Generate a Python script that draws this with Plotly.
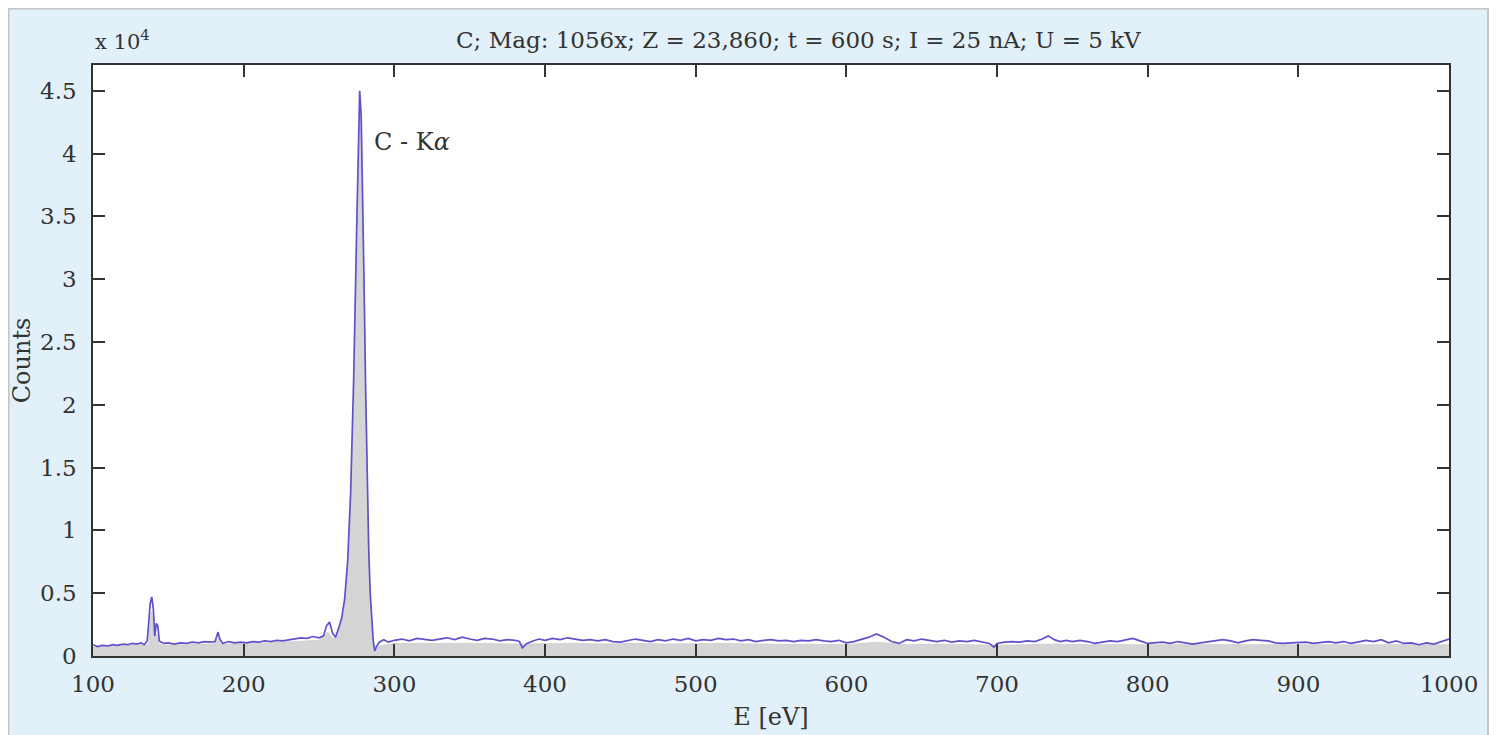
import plotly.graph_objects as go

# ---------------- data ----------------
energy_eV = [100, 103, 106, 110, 113, 116, 120, 123, 126, 129, 132, 134, 136, 138, 139, 140, 141, 142, 143, 144,
             147, 150, 154, 158, 162, 166, 170, 174, 178, 181, 183, 184, 186, 190, 194, 198, 202, 206, 210, 214,
             218, 222, 226, 230, 234, 238, 242, 246, 250, 253, 255, 257, 259, 261, 263, 265, 267, 269, 271, 273,
             275, 276, 277, 278, 279, 280, 281, 282, 283, 284, 285, 286, 287, 288, 290, 293, 296, 300, 305, 310,
             315, 320, 325, 330, 335, 340, 345, 350, 355, 360, 365, 370, 375, 380, 383, 385, 388, 392, 396, 400,
             405, 410, 415, 420, 425, 430, 435, 440, 445, 450, 455, 460, 465, 470, 475, 480, 485, 490, 495, 500,
             505, 510, 515, 520, 525, 530, 535, 540, 545, 550, 555, 560, 565, 570, 575, 580, 585, 590, 595, 600,
             605, 610, 615, 620, 625, 630, 635, 640, 645, 650, 655, 660, 665, 670, 675, 680, 685, 690, 695, 698,
             700, 705, 710, 715, 720, 725, 730, 734, 738, 742, 746, 750, 755, 760, 765, 770, 775, 780, 785, 790,
             795, 800, 810, 815, 820, 825, 830, 835, 840, 845, 850, 855, 860, 865, 870, 875, 880, 885, 890, 895,
             900, 905, 910, 915, 920, 925, 930, 935, 940, 945, 950, 955, 960, 965, 970, 975, 980, 985, 990, 995,
             1000]
smoothed_counts = [900, 750, 850, 800, 900, 850, 950, 900, 1000, 950, 1050, 900, 1200, 4200, 4700, 3800, 1600, 2600, 2400, 1200,
                   1000, 1050, 950, 1050, 1000, 1100, 1050, 1150, 1100, 1150, 1900, 1400, 1000, 1150, 1050, 1100, 1050, 1150, 1100, 1200,
                   1150, 1250, 1200, 1300, 1350, 1450, 1400, 1550, 1450, 1600, 2400, 2700, 1800, 1500, 2200, 3000, 4500, 7500, 13000, 22000,
                   34000, 41000, 45000, 43000, 37000, 29000, 21000, 14000, 8500, 5000, 2500, 1200, 400, 700, 1100, 1300, 1100, 1250, 1350, 1200,
                   1400, 1300, 1250, 1350, 1450, 1300, 1500, 1350, 1250, 1400, 1350, 1200, 1300, 1250, 1150, 650, 1000, 1200, 1350, 1250,
                   1400, 1300, 1450, 1350, 1250, 1300, 1200, 1300, 1150, 1100, 1200, 1350, 1250, 1150, 1300, 1200, 1350, 1250, 1400, 1200,
                   1300, 1250, 1400, 1300, 1350, 1200, 1300, 1150, 1250, 1300, 1200, 1250, 1150, 1250, 1200, 1300, 1200, 1150, 1250, 1050,
                   1150, 1300, 1500, 1750, 1500, 1150, 1000, 1300, 1200, 1350, 1250, 1150, 1250, 1100, 1200, 1150, 1250, 1150, 1000, 700,
                   1000, 1100, 1150, 1100, 1200, 1150, 1350, 1600, 1300, 1150, 1250, 1150, 1250, 1150, 1000, 1100, 1200, 1150, 1300, 1400,
                   1200, 1000, 1100, 1000, 1150, 1050, 950, 1050, 1150, 1250, 1300, 1200, 1050, 1200, 1300, 1250, 1200, 1050, 1000, 1050,
                   1050, 1100, 1000, 1100, 1150, 1050, 1150, 1000, 1100, 1250, 1150, 1300, 1050, 1200, 1000, 1050, 900, 1050, 950, 1150,
                   1350]

raw_energy_eV = [100, 110, 120, 130, 137, 138, 139, 140, 141, 142, 144, 150, 160, 170, 180, 183, 185, 190, 200, 210,
                 220, 230, 240, 250, 256, 259, 262, 265, 267, 269, 271, 273, 275, 276, 277, 278, 279, 280, 281, 282,
                 283, 284, 285, 286, 288, 290, 300, 320, 340, 360, 380, 400, 420, 440, 460, 480, 500, 520, 540, 560,
                 580, 600, 620, 640, 660, 680, 700, 720, 740, 760, 780, 800, 820, 840, 860, 880, 900, 920, 940, 960,
                 980, 1000]
raw_counts = [700, 750, 800, 850, 900, 3000, 3500, 2500, 1200, 1800, 900, 850, 900, 900, 950, 1400, 900, 950, 950, 1000,
              1050, 1100, 1200, 1250, 1900, 1400, 1500, 2600, 4000, 7000, 12000, 21000, 33000, 40000, 44000, 42000, 36000, 28000, 20000, 13000,
              8000, 4500, 2200, 900, 500, 800, 1000, 1000, 1050, 1000, 950, 1000, 1000, 950, 1000, 950, 1000, 1000, 950, 950,
              950, 900, 1100, 900, 950, 900, 850, 900, 950, 900, 900, 900, 850, 900, 900, 850, 850, 900, 850, 900,
              850, 900]

y_tick_vals = [0, 5000, 10000, 15000, 20000, 25000, 30000, 35000, 40000, 45000]
y_tick_text = ["0", "0.5", "1", "1.5", "2", "2.5", "3", "3.5", "4", "4.5"]
x_tick_vals = [100, 200, 300, 400, 500, 600, 700, 800, 900, 1000]

title_text = "C; Mag: 1056x; Z = 23,860; t = 600 s; I = 25 nA; U = 5 kV"

# ---------------- figure ----------------
FONT = "DejaVu Serif"
TXT = "#333333"

fig = go.Figure()
fig.add_trace(go.Scatter(x=raw_energy_eV, y=raw_counts, mode="lines", fill="tozeroy",
                         line=dict(color="#cbcbcb", width=0.8), fillcolor="#d5d5d5",
                         hoverinfo="skip", showlegend=False))
fig.add_trace(go.Scatter(x=energy_eV, y=smoothed_counts, mode="lines",
                         line=dict(color="#5d52cc", width=1.7), showlegend=False))

# page body has an 8 px margin: figure pixel = page pixel - 8
OFF = 8
W, H = 1481, 727
L, T = 93 - OFF, 65 - OFF
R = W - (1449 - OFF)
B = H - (656 - OFF)
pw, ph = W - L - R, H - T - B

def px_x(p):  # page pixel -> paper x
    return (p - OFF - L) / pw

def px_y(p):  # page pixel -> paper y
    return (H - B - (p - OFF)) / ph

# outer light-blue frame
fig.add_shape(type="rect", xref="paper", yref="paper",
              x0=px_x(8.5), x1=px_x(1488), y0=px_y(780), y1=px_y(8.5),
              fillcolor="#e2f0f9", line=dict(color="#c4c4c4", width=2), layer="below")
# white plot area
fig.add_shape(type="rect", xref="paper", yref="paper", x0=0, x1=1, y0=0, y1=1,
              fillcolor="white", line=dict(width=0), layer="below")

fig.add_annotation(text=title_text, xref="paper", yref="paper", x=px_x(798), y=px_y(40),
                   showarrow=False, font=dict(family=FONT, size=23, color=TXT), xanchor="center", yanchor="middle")
fig.add_annotation(text="x 10<sup>4</sup>", xref="paper", yref="paper", x=px_x(93), y=px_y(40),
                   showarrow=False, font=dict(family=FONT, size=21, color=TXT), xanchor="left", yanchor="middle")
fig.add_annotation(text="C - K<i>α</i>", x=285.5, y=40900, xref="x", yref="y",
                   showarrow=False, font=dict(family=FONT, size=24, color=TXT), xanchor="left", yanchor="middle")

axis_common = dict(showline=True, linecolor="#333333", linewidth=1.5, mirror="allticks",
                   ticks="inside", ticklen=12, tickwidth=1.5, tickcolor="#333333",
                   showgrid=False, zeroline=False,
                   tickfont=dict(family=FONT, size=23, color=TXT))

fig.update_xaxes(range=[100, 1000], tickvals=x_tick_vals, ticklabelstandoff=7,
                 title=dict(text="E [eV]", font=dict(family=FONT, size=24, color=TXT), standoff=12),
                 **axis_common)
fig.update_yaxes(range=[0, 47050], tickvals=y_tick_vals, ticktext=y_tick_text, ticklabelstandoff=10,
                 title=dict(text="Counts", font=dict(family=FONT, size=24, color=TXT), standoff=6),
                 **axis_common)

fig.update_layout(width=W, height=H, margin=dict(l=L, r=R, t=T, b=B, autoexpand=False),
                  paper_bgcolor="white", plot_bgcolor="white", showlegend=False)

fig.write_html("out.html")
